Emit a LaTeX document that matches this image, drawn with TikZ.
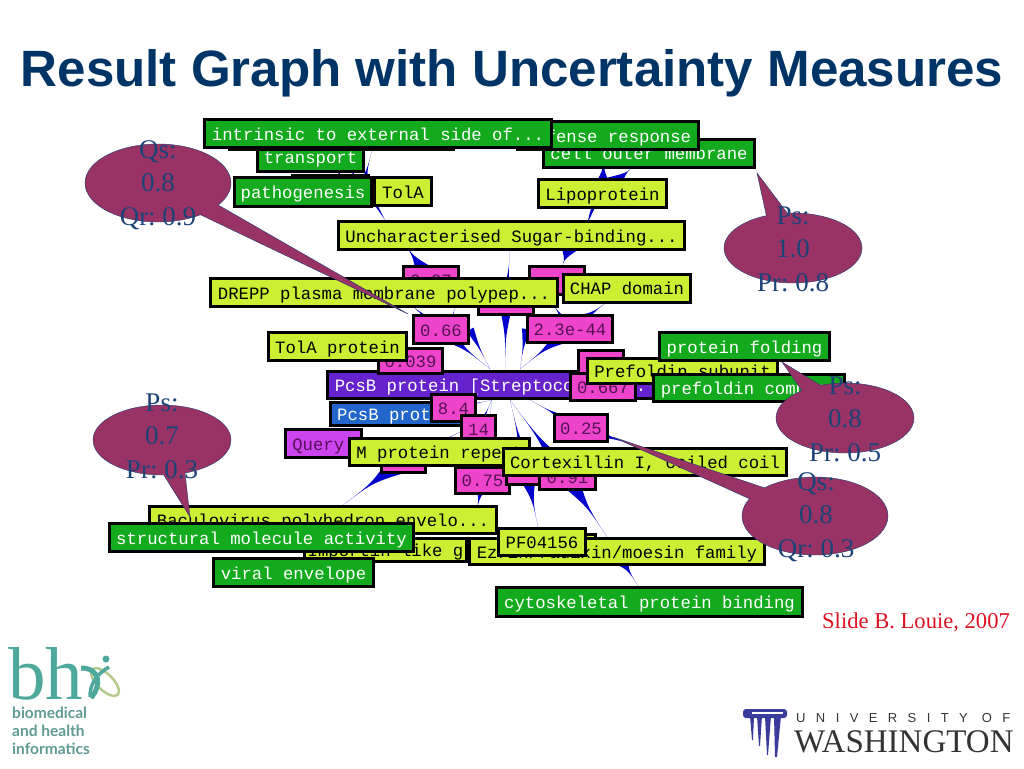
\documentclass[tikz,border=0pt]{standalone}
\usepackage{fontspec}
\setmainfont{Liberation Serif}
\setsansfont{Liberation Sans}
\setmonofont{Liberation Mono}
\newfontfamily\bhifont{Lato}
\newfontfamily\uwfont[LetterSpace=80]{Liberation Sans}
\usepackage{tikz}
\usetikzlibrary{calc,backgrounds,shapes.callouts}
\definecolor{navytitle}{HTML}{003366}
\definecolor{calloutfill}{HTML}{993366}
\definecolor{calloutline}{HTML}{1F3A6E}
\definecolor{callouttext}{HTML}{1C4278}
\definecolor{edgeblue}{HTML}{0000CC}
\definecolor{gogreen}{HTML}{14AA1E}
\definecolor{annyellow}{HTML}{CCEE33}
\definecolor{scorepink}{HTML}{EE44CC}
\definecolor{scoretext}{HTML}{551155}
\definecolor{pcsbpurple}{HTML}{6622CC}
\definecolor{pcsbblue}{HTML}{2266CC}
\definecolor{querypurple}{HTML}{CC44EE}
\definecolor{bhiteal}{HTML}{4FA89C}
\definecolor{bhigrey}{HTML}{5F9A93}
\definecolor{bhiolive}{HTML}{B5C98A}
\definecolor{uwpurple}{HTML}{3B3B9B}
\definecolor{creditred}{HTML}{DD1122}
\newcommand{\taper}[3][6pt]{\fill[edgeblue] (#2) .. controls ($(#2)!.5!(#3)$) .. ($(#3)!#1!90:(#2)$) -- ($(#3)!#1!-90:(#2)$) .. controls ($(#2)!.5!(#3)$) .. (#2);}
\begin{document}
\begin{tikzpicture}[
    x=1pt, y=-1pt,
    graphbox/.style={draw=black, line width=3pt, inner sep=0pt, minimum height=28pt,
        text height=13pt, text depth=0pt, font=\ttfamily\fontsize{17.3}{20}\selectfont},
    gobox/.style={graphbox, fill=gogreen, text=white},
    annbox/.style={graphbox, fill=annyellow, text=black},
    scorebox/.style={graphbox, fill=scorepink, text=scoretext},
    bubble/.style={ellipse callout, draw=calloutline, fill=calloutfill, inner sep=0pt,
        minimum width=138pt, minimum height=70pt, callout pointer arc=18},
    bubbletext/.style={align=center, text=callouttext, inner sep=0pt,
        font=\rmfamily\frenchspacing\fontsize{27}{33.5}\selectfont}
]
    \useasboundingbox (0,0) rectangle (1024,768);

    \node[text=navytitle, font=\sffamily\bfseries\fontsize{51.1}{56}\selectfont] (title) at (512,73)
        {Result Graph with Uncertainty Measures};

    \node[gobox, minimum width=76pt, minimum height=20pt] (hidepatho) at (330,185) {};
    \node[annbox, minimum width=57pt] (ntola) at (403,191.5) {TolA};
    \node[gobox, minimum width=106pt] (ntransport) at (310.5,157) {transport};
    \node[gobox, minimum width=137pt, minimum height=29pt] (npatho) at (303,192) {pathogenesis};
    \node[gobox, minimum width=224pt, minimum height=23pt] (hideinternal) at (341,138) {};
    \node[gobox, minimum width=211pt] (nouter) at (649,153) {cell outer membrane};
    \node[gobox, minimum width=181pt] (ndefense) at (608,135.5) {defense response};
    \node[gobox, minimum width=347pt] (ninternal) at (378,133.5) {intrinsic to external side of...};

    \node[annbox, minimum width=128pt] (nlipo) at (602.5,193.5) {Lipoprotein};
    \node[annbox, minimum width=346pt] (nsugar) at (511.5,235.5) {Uncharacterised Sugar-binding...};
    \node[scorebox, minimum width=55pt] (sA) at (431,280) {0.07};
    \node[scorebox, minimum width=55pt] (sB) at (557,280.5) {};
    \node[scorebox, minimum width=55pt, minimum height=23pt] (sC) at (506,303) {};
    \node[annbox, minimum width=347pt] (ndrepp) at (384,292.5) {DREPP plasma membrane polypep...};
    \node[annbox, minimum width=127pt] (nchap) at (627,288) {CHAP domain};

    \node[graphbox, fill=pcsbpurple, text=white, minimum width=326pt, minimum height=27pt] (npcsb) at (490.5,385)
        {PcsB protein [Streptococcus...};
    \node[graphbox, fill=pcsbblue, text=white, minimum width=138pt, minimum height=23pt] (nblue) at (399.5,414)
        {PcsB protein};
    \node[scorebox, minimum width=64pt, minimum height=25pt] (s039) at (410.5,361) {0.039};
    \node[annbox, minimum width=138pt] (ntolap) at (337.5,346.5) {TolA protein};
    \node[scorebox, minimum width=55pt] (s066) at (441,329.5) {0.66};
    \node[scorebox, minimum width=85pt, minimum height=27pt] (s23e) at (570,329) {2.3e-44};
    \node[scorebox, minimum width=45pt, minimum height=23pt] (sF) at (601,362) {};
    \node[scorebox, minimum width=65pt, minimum height=27pt] (s0667) at (603,387) {0.667};
    \node[annbox, minimum width=190pt, minimum height=25pt] (nprefsub) at (682.5,371) {Prefoldin subunit};
    \node[gobox, minimum width=170pt] (nfold) at (744.5,346.5) {protein folding};
    \node[gobox, minimum width=191pt, minimum height=27pt] (nprefc) at (749,388) {prefoldin complex};

    \node[scorebox, minimum width=44pt, minimum height=27pt] (s84) at (453.5,408) {8.4};
    \node[scorebox, minimum width=34pt, minimum height=27pt] (s14) at (478.5,429) {14};
    \node[scorebox, minimum width=53pt, minimum height=27pt] (s025) at (581,428) {0.25};
    \node[graphbox, fill=querypurple, text=scoretext, minimum width=76pt] (nquery) at (323.5,443.5) {Query.};
    \node[scorebox, minimum width=44pt, minimum height=26pt] (sD) at (403.5,459.5) {};
    \node[scorebox, minimum width=54pt, minimum height=26pt] (s075) at (482.5,480) {0.75};
    \node[annbox, minimum width=180pt, minimum height=27pt] (nmrep) at (439.5,452) {M protein repeat};
    \node[scorebox, minimum width=41pt, minimum height=23pt] (sE) at (527,473) {};
    \node[scorebox, minimum width=56pt, minimum height=26pt] (s091) at (567.5,476.5) {0.91};
    \node[annbox, minimum width=283pt, minimum height=27pt] (ncortex) at (645,462) {Cortexillin I, coiled coil};

    \node[annbox, minimum width=54pt, minimum height=24pt] (hidepf) at (568.5,546) {};
    \node[annbox, minimum width=162pt, minimum height=23pt] (nlike) at (385.5,550) {Importin like g};
    \node[annbox, minimum width=295pt, minimum height=26pt] (nezrin) at (617,551.5) {Ezrin/radixin/moesin family};
    \node[annbox, minimum width=87pt, minimum height=27pt] (npf) at (542,542) {PF04156};
    \node[annbox, minimum width=347pt, minimum height=27pt] (nbacu) at (323,520) {Baculovirus polyhedron envelo...};
    \node[gobox, minimum width=304pt] (nstruct) at (261.5,537.5) {structural molecule activity};
    \node[gobox, minimum width=160pt] (nviral) at (293.5,572.5) {viral envelope};
    \node[gobox, minimum width=306pt, minimum height=29pt] (ncyto) at (649.5,602) {cytoskeletal protein binding};

    \begin{scope}[on background layer]
        \coordinate (fanleft) at (490,369);
        \coordinate (fanmid) at (505,369);
        \coordinate (fanright) at (520,369);
        \coordinate (fanlow) at (492,400);
        \coordinate (fanlowb) at (510,400);
        \coordinate (fanlowc) at (530,400);
        \taper[10pt]{fanleft}{s066}
        \taper[4pt]{fanleft}{s066.east}
        \taper[7pt]{fanmid}{sC}
        \taper[13pt]{fanright}{s23e}
        \taper[4pt]{fanright}{s23e.west}
        \taper[7pt]{fanlow}{s84}
        \taper[7pt]{fanlow}{s14}
        \taper[6pt]{fanlow}{s075}
        \taper[10pt]{fanlowb}{sE}
        \taper[11pt]{fanlowb}{s091}
        \taper[12pt]{fanlowc}{s025}
        \taper[9pt]{nblue.south east}{sD}
        \taper[8pt]{npcsb.east}{sF}

        \coordinate (bacutop) at (343,505);
        \coordinate (bacuright) at (476,515);
        \coordinate (pftop) at (538,527);
        \coordinate (ezrintop) at (607,537);
        \coordinate (cytotop) at (638,586);
        \coordinate (cortextop) at (640,447);
        \coordinate (ezrinmid) at (617,552);
        \taper[14pt]{bacutop}{sD}
        \taper[10pt]{bacuright}{s075}
        \taper[10pt]{pftop}{sE}
        \taper[11pt]{ezrintop}{s091}
        \taper[14pt]{cytotop}{ezrinmid}
        \taper[10pt]{cortextop}{s025}

        \coordinate (chapleft) at (610,300);
        \coordinate (sugarlow) at (510,251);
        \coordinate (sugarA) at (402,240);
        \coordinate (sugarB) at (573,236);
        \coordinate (sugarlipo) at (587,224);
        \coordinate (lipolow) at (594,205);
        \coordinate (dreppA) at (405,300);
        \coordinate (dreppB) at (456,305);
        \coordinate (dreppC) at (550,300);
        \coordinate (s066top) at (448,330);
        \coordinate (sAmid) at (424,272);
        \taper[16pt]{chapleft}{s23e}
        \taper[8pt]{sugarlow}{sC}
        \taper[9pt]{sugarA}{sAmid}
        \taper[18pt]{sB}{sugarB}
        \taper[2pt]{sugarlipo}{lipolow}
        \taper[8pt]{dreppA}{s066}
        \taper[10pt]{dreppB}{s066top}
        \taper[10pt]{dreppC}{s23e}

        \coordinate (outerlow) at (604,150);
        \coordinate (tolalow) at (385,220);
        \coordinate (tolamid) at (370,195);
        \coordinate (transA) at (372,150);
        \coordinate (transB) at (362,190);
        \coordinate (transC) at (340,165);
        \coordinate (transD) at (338,185);
        \coordinate (transE) at (354,165);
        \coordinate (transF) at (352,185);
        \taper[16pt]{nouter}{nlipo}
        \taper[14pt]{outerlow}{nlipo}
        \taper[2pt]{tolalow}{tolamid}
        \taper[6pt]{transA}{transB}
        \taper[8pt]{transC}{transD}
        \taper[8pt]{transE}{transF}
    \end{scope}

    \node[bubble, minimum width=146pt, minimum height=78pt, callout pointer arc=20, callout absolute pointer={(408,314)}] (qsA) at (158,183) {};
    \node[bubbletext] (qsAtext) at (158,185) {Qs:\\0.8\\Qr: 0.9};
    \node[bubble, callout absolute pointer={(757,173)}] (psB) at (793,248) {};
    \node[bubbletext] (psBtext) at (793,249) {Ps:\\1.0\\Pr: 0.8};
    \node[bubble, callout absolute pointer={(782,362)}] (psC) at (845,418) {};
    \node[bubbletext] (psCtext) at (845,419) {Ps:\\0.8\\Pr: 0.5};
    \node[bubble, minimum width=146pt, minimum height=78pt, callout pointer arc=20, callout absolute pointer={(613,437)}] (qsD) at (815,516) {};
    \node[bubbletext] (qsDtext) at (816,517) {Qs:\\0.8\\Qr: 0.3};
    \node[bubble, callout absolute pointer={(190,517)}] (psE) at (162,440) {};
    \node[bubbletext] (psEtext) at (162,436) {Ps:\\0.7\\Pr: 0.3};

    \node[text=creditred, font=\rmfamily\fontsize{22.6}{26}\selectfont] (credit) at (916,622) {Slide B. Louie, 2007};

    \node[text=bhiteal, inner sep=0pt, anchor=base west, font=\rmfamily\fontsize{75}{80}\selectfont] (bhiletters) at (8,699) {bh};
    \draw[bhiolive, line width=2.5pt, rotate around={-45:(105,682)}] (105,682) ellipse (18pt and 8pt);
    \draw[bhiteal, line width=5pt] (81,668) .. controls (100,668) and (102,685) .. (91,698);
    \draw[bhiteal, line width=3.5pt] (109,667) .. controls (95,675) and (90,685) .. (90,697);
    \fill[bhiteal] (106,659) circle (3.5pt);
    \node[text=bhigrey, anchor=north west, inner sep=0pt, align=left, font=\bhifont\bfseries\fontsize{15.5}{18}\selectfont] (bhiname) at (12,707)
        {biomedical\\and health\\informatics};

    \fill[uwpurple, rounded corners=3pt] (743,709) rectangle (787,718);
    \fill[white] (752,712) rectangle (783,714);
    \fill[uwpurple] (750,716) -- (754,716) -- (753,740) -- (752,740) -- cycle;
    \fill[uwpurple] (757,716) -- (762,716) -- (760,746) -- (759,746) -- cycle;
    \fill[uwpurple] (765,716) -- (771,716) -- (768,755) -- (767,755) -- cycle;
    \fill[uwpurple] (774,716) -- (781,716) -- (777,757) -- (775,757) -- cycle;
    \node[anchor=base west, inner sep=0pt, text=black!80, font=\uwfont\fontsize{13}{15}\selectfont] (uwtop) at (796,722) {UNIVERSITY OF};
    \node[anchor=base west, inner sep=0pt, text=black!80, font=\rmfamily\fontsize{33}{36}\selectfont] (uwname) at (794,752) {WASHINGTON};
\end{tikzpicture}
\end{document}
